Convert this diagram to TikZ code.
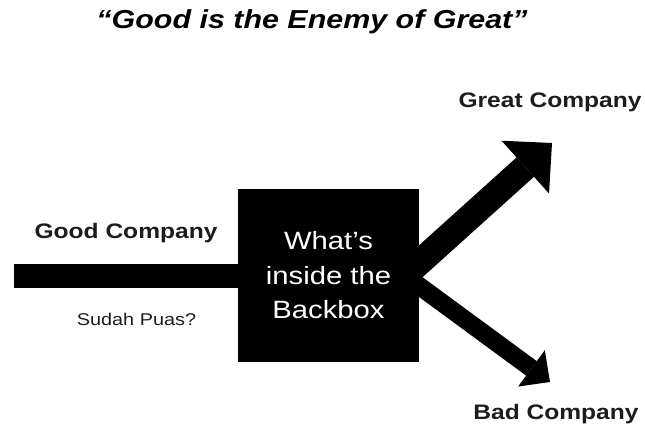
\documentclass[tikz,border=0pt]{standalone}
\usepackage{fontspec}
\setmainfont{Liberation Sans}[FakeStretch=1.17]
\usetikzlibrary{arrows.meta}
\definecolor{ink}{HTML}{1C1C1C}
\begin{document}
\begin{tikzpicture}[x=1pt,y=-1pt,
  heading/.style={font=\fontsize{26}{30}\selectfont\bfseries\itshape, text=black, anchor=base, inner sep=0pt},
  tag/.style={font=\fontsize{21}{25}\selectfont\bfseries, text=ink, anchor=base, inner sep=0pt},
  note/.style={font=\fontsize{17}{20}\selectfont, text=ink, anchor=base, inner sep=0pt},
  blackbox/.style={rectangle, fill=black, draw=none, inner sep=0pt,
    minimum width=181pt, minimum height=173pt, align=center, text=white,
    font=\fontsize{25}{34.5}\selectfont},
  inbar/.style={line width=24pt, draw=black},
  upbar/.style={line width=26pt, draw=black,
    -{Triangle[length=36pt, width=71pt, line width=0pt]}},
  downbar/.style={line width=18pt, draw=black,
    -{Triangle[length=23pt, width=45pt, line width=0pt]}}
]
\useasboundingbox (0,0) rectangle (645,425);

% title
\node[heading] (title) at (312,28.5) {“Good is the Enemy of Great”};

% central box
\node[blackbox] (box) at (328.5,275.5) {What’s\\inside the\\Backbox};

% labels
\node[tag] (good) at (126,238) {Good Company};
\node[note] (puas) at (136.5,325) {Sudah Puas?};
\node[tag] (great) at (550,108) {Great Company};
\node[tag] (bad) at (556,419) {Bad Company};

% connectors
\coordinate (entry) at (14,275.5);
\coordinate (fork) at (405,275.5);
\coordinate (greattip) at (552,143);
\coordinate (badtip) at (550,382);

\draw[inbar] (entry) -- (box.west);
\draw[upbar] (fork) -- (greattip);
\draw[downbar] (fork) -- (badtip);
\end{tikzpicture}
\end{document}
